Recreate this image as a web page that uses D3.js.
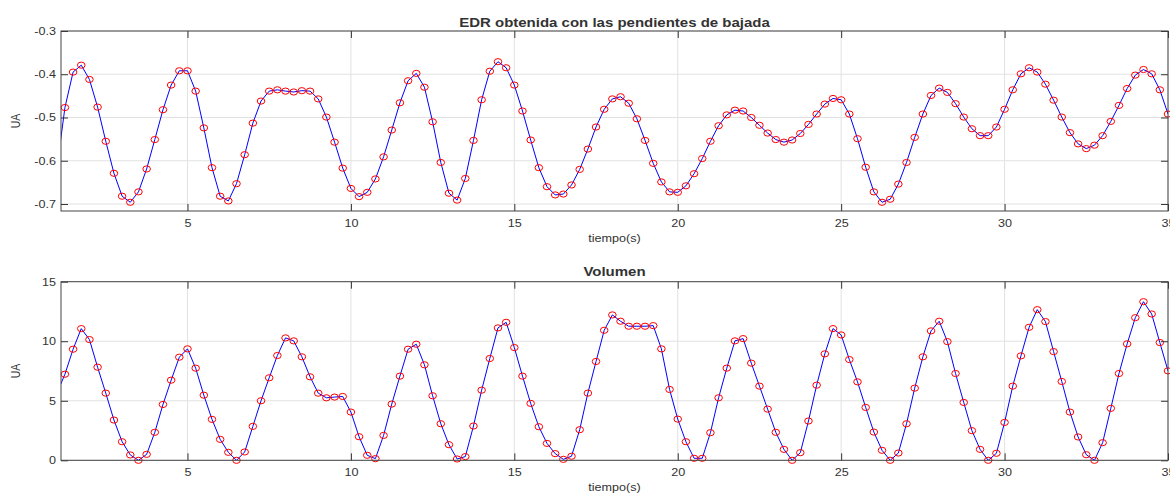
<!DOCTYPE html>
<html><head><meta charset="utf-8">
<script src="https://cdn.jsdelivr.net/npm/d3@7"></script>
<style>
body{margin:0;background:#fff;}
svg{display:block;font-family:"Liberation Sans",Arial,Helvetica,sans-serif;}
</style></head>
<body><svg id="c" width="1170" height="496"></svg>
<script>
// ---- data ----
const time = [1,1.25,1.5,1.75,2,2.25,2.5,2.75,3,3.25,3.5,3.75,4,4.25,4.5,4.75,5,5.25,5.5,5.75,
6,6.25,6.5,6.75,7,7.25,7.5,7.75,8,8.25,8.5,8.75,9,9.25,9.5,9.75,10,10.25,10.5,10.75,
11,11.25,11.5,11.75,12,12.25,12.5,12.75,13,13.25,13.5,13.75,14,14.25,14.5,14.75,15,15.25,15.5,15.75,
16,16.25,16.5,16.75,17,17.25,17.5,17.75,18,18.25,18.5,18.75,19,19.25,19.5,19.75,20,20.25,20.5,20.75,
21,21.25,21.5,21.75,22,22.25,22.5,22.75,23,23.25,23.5,23.75,24,24.25,24.5,24.75,25,25.25,25.5,25.75,
26,26.25,26.5,26.75,27,27.25,27.5,27.75,28,28.25,28.5,28.75,29,29.25,29.5,29.75,30,30.25,30.5,30.75,
31,31.25,31.5,31.75,32,32.25,32.5,32.75,33,33.25,33.5,33.75,34,34.25,34.5,34.75,35];

const edr = [-0.620,-0.477,-0.395,-0.379,-0.412,-0.476,-0.555,-0.629,-0.682,-0.696,-0.672,-0.619,-0.551,-0.482,-0.425,-0.392,-0.392,-0.439,-0.524,-0.616,
-0.682,-0.693,-0.653,-0.586,-0.513,-0.462,-0.439,-0.436,-0.439,-0.441,-0.438,-0.439,-0.457,-0.499,-0.557,-0.617,-0.664,-0.683,-0.673,-0.642,
-0.591,-0.529,-0.466,-0.415,-0.398,-0.430,-0.510,-0.604,-0.675,-0.691,-0.641,-0.553,-0.459,-0.393,-0.371,-0.385,-0.425,-0.485,-0.552,-0.616,
-0.660,-0.679,-0.677,-0.656,-0.620,-0.573,-0.522,-0.481,-0.457,-0.452,-0.467,-0.503,-0.553,-0.606,-0.649,-0.672,-0.673,-0.658,-0.630,-0.595,
-0.555,-0.519,-0.494,-0.483,-0.485,-0.500,-0.518,-0.536,-0.551,-0.557,-0.552,-0.537,-0.516,-0.492,-0.469,-0.456,-0.459,-0.492,-0.549,-0.615,
-0.672,-0.696,-0.689,-0.654,-0.604,-0.546,-0.492,-0.449,-0.432,-0.442,-0.468,-0.499,-0.526,-0.542,-0.542,-0.522,-0.481,-0.436,-0.399,-0.385,
-0.395,-0.423,-0.460,-0.499,-0.535,-0.561,-0.572,-0.564,-0.542,-0.509,-0.472,-0.433,-0.402,-0.389,-0.399,-0.436,-0.492];

const volumen = [5.6,7.23,9.33,11.06,10.14,7.82,5.64,3.38,1.56,0.45,0.0,0.50,2.35,4.69,6.73,8.66,9.36,7.74,5.47,3.44,
1.76,0.67,0.0,0.70,2.85,5.0,6.93,8.80,10.28,10.03,8.69,7.01,5.64,5.25,5.31,5.36,4.05,1.98,0.42,0.14,
2.09,4.72,7.07,9.33,9.75,8.02,5.42,3.07,1.31,0.11,0.31,2.88,5.89,8.55,11.12,11.59,9.47,7.07,4.78,2.82,
1.42,0.56,0.08,0.34,2.57,5.64,8.30,10.92,12.21,11.68,11.26,11.26,11.26,11.31,9.36,5.95,3.46,1.56,0.17,0.17,
2.32,5.25,7.74,10.03,10.22,8.16,6.23,4.30,2.35,0.92,0.0,0.64,3.30,6.31,8.94,11.06,10.53,8.46,6.59,4.44,
2.37,0.84,0.0,0.61,3.07,6.06,8.69,10.87,11.68,9.97,7.29,4.86,2.49,0.92,0.0,0.59,3.18,6.23,8.77,11.17,
12.65,11.65,9.13,6.62,4.05,1.96,0.47,0.0,1.48,4.36,7.29,9.78,11.98,13.32,12.29,9.89,7.51];

const xTicks = [5,10,15,20,25,30,35];
const edrTicks = [-0.7,-0.6,-0.5,-0.4,-0.3];
const volTicks = [0,5,10,15];
const titleTop = "EDR obtenida con las pendientes de bajada";
const titleBottom = "Volumen";
const xLabel = "tiempo(s)";
const yLabel = "UA";

// ---- drawing ----
const SX = 1.2;           // horizontal text stretch seen in the reference
const TXT = "#333";
const svg = d3.select("#c");
svg.append("rect").attr("width",1170).attr("height",496).attr("fill","#fff");

const x = d3.scaleLinear().domain([1.13, 35]).range([61, 1168]);

function stretchText(sel){
  sel.selectAll("text").each(function(){
    const t = d3.select(this);
    const xx = +t.attr("x") || 0;
    t.attr("x", xx / SX).attr("transform", `scale(${SX},1)`);
  });
}
function label(x0, y0, str, size, weight, rotate){
  svg.append("text")
    .attr("transform", rotate
      ? `translate(${x0},${y0}) rotate(-90) scale(1,${SX})`
      : `translate(${x0},${y0}) scale(${SX},1)`)
    .attr("text-anchor","middle")
    .attr("font-size", size).attr("font-weight", weight)
    .attr("fill", TXT).text(str);
}

function panel(id, values, yDomain, top, bottom, yTicks, fmt, title, titleY){
  const y = d3.scaleLinear().domain(yDomain).range([bottom, top]);
  const [L, R] = x.range();
  const g = svg.append("g");

  // grid
  g.append("g").selectAll("line").data(xTicks).join("line")
    .attr("x1", d => x(d)).attr("x2", d => x(d)).attr("y1", top).attr("y2", bottom)
    .attr("stroke", "#e2e2e2").attr("stroke-width", 1);
  g.append("g").selectAll("line").data(yTicks).join("line")
    .attr("x1", L).attr("x2", R).attr("y1", d => y(d)).attr("y2", d => y(d))
    .attr("stroke", "#e2e2e2").attr("stroke-width", 1);

  // clip
  svg.append("clipPath").attr("id", "clip" + id)
    .append("rect").attr("x", L).attr("y", top).attr("width", R - L).attr("height", bottom - top);

  const pts = time.map((t, i) => ({t, v: values[i]}));
  g.append("path").datum(pts)
    .attr("clip-path", `url(#clip${id})`)
    .attr("d", d3.line().x(d => x(d.t)).y(d => y(d.v)))
    .attr("fill", "none").attr("stroke", "#0000ff").attr("stroke-width", 1);

  g.append("g").selectAll("ellipse")
    .data(pts.filter(d => d.t >= x.domain()[0] && d.t <= x.domain()[1]))
    .join("ellipse")
    .attr("cx", d => x(d.t)).attr("cy", d => y(d.v))
    .attr("rx", 3.8).attr("ry", 3.1)
    .attr("fill", "none").attr("stroke", "#ff0000").attr("stroke-width", 1);

  // axes (ticks inward)
  const ax = (gen, tx, ty) => {
    const a = g.append("g").attr("transform", `translate(${tx},${ty})`).call(gen);
    a.select(".domain").remove();
    a.selectAll("line").attr("stroke", "#333");
    a.selectAll("text").attr("fill", TXT).attr("font-size", 10.5)
      .attr("font-family", '"Liberation Sans",Arial,sans-serif');
    return a;
  };
  const xb = ax(d3.axisBottom(x).tickValues(xTicks).tickSizeInner(-7).tickSizeOuter(0).tickPadding(8.7).tickFormat(d3.format("d")), 0, bottom);
  stretchText(xb);
  ax(d3.axisTop(x).tickValues(xTicks).tickSizeInner(-7).tickSizeOuter(0).tickFormat(""), 0, top);
  const yl = ax(d3.axisLeft(y).tickValues(yTicks).tickSizeInner(-7).tickSizeOuter(0).tickPadding(5).tickFormat(fmt), L, 0);
  stretchText(yl);
  ax(d3.axisRight(y).tickValues(yTicks).tickSizeInner(-7).tickSizeOuter(0).tickFormat(""), R, 0);

  // box
  g.append("rect").attr("x", L).attr("y", top).attr("width", R - L).attr("height", bottom - top)
    .attr("fill", "none").attr("stroke", "#444").attr("stroke-width", 1);

  label((L + R) / 2, titleY, title, 12.5, "bold", false);
  label((L + R) / 2, bottom + 30.5, xLabel, 10.5, "normal", false);
  label(20, (top + bottom) / 2, yLabel, 10.5, "normal", true);
}

panel("a", edr, [-0.7162, -0.3], 31, 211, edrTicks, d => d.toFixed(1), titleTop, 26.5);
panel("b", volumen, [0, 15], 281.7, 460.3, volTicks, d => String(d), titleBottom, 276);
</script>
</body></html>
